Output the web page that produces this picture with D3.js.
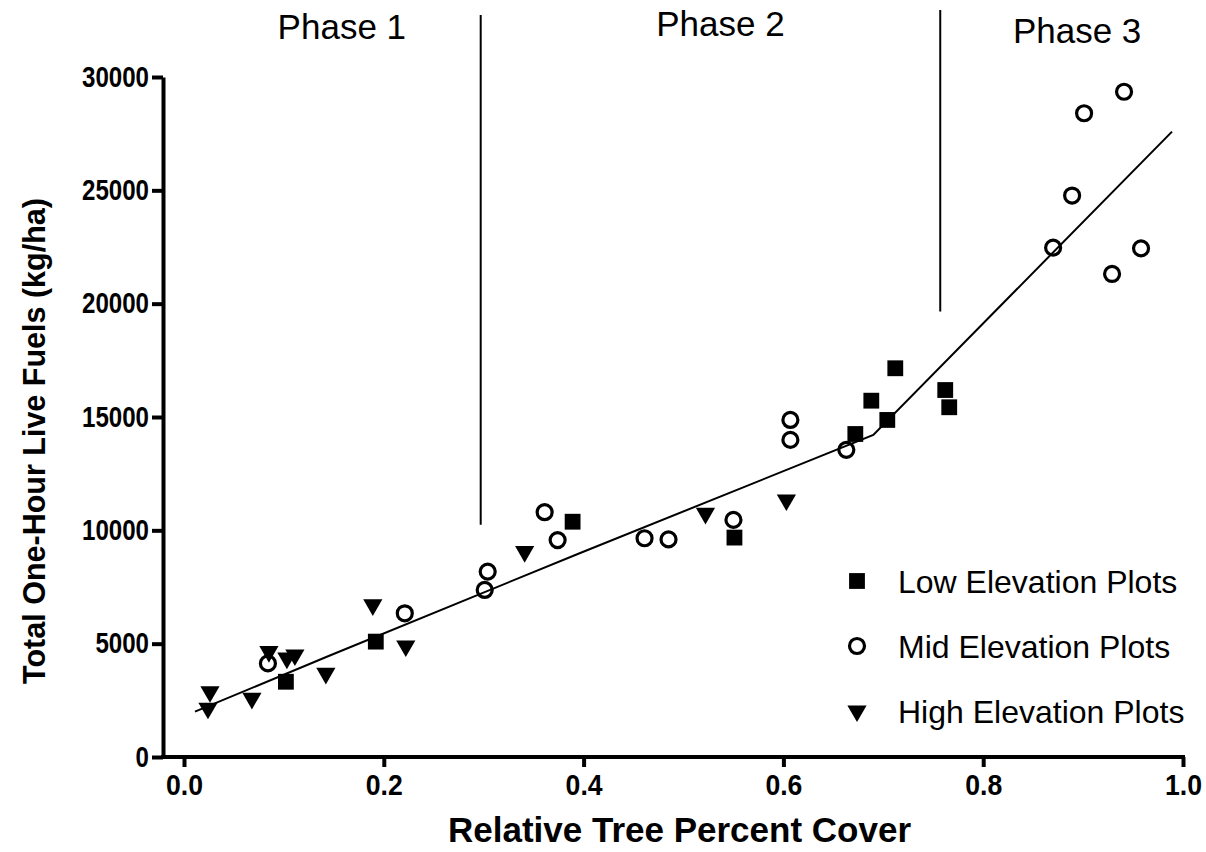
<!DOCTYPE html>
<html><head><meta charset="utf-8">
<script src="https://cdn.jsdelivr.net/npm/d3@7"></script>
<style>
body{margin:0;background:#fff;}
svg{display:block;font-family:"Liberation Sans",Arial,sans-serif;}
</style></head>
<body><svg id="c" width="1206" height="852"></svg>
<script>
// ---- data ----
const lowX  = [0.102,0.192,0.389,0.551,0.672,0.688,0.704,0.712,0.762,0.766];
const lowY  = [3320,5090,10380,9680,14250,15720,14870,17150,16190,15430];
const midX  = [0.084,0.221,0.301,0.304,0.361,0.374,0.461,0.485,0.550,0.607,0.607,0.663,0.870,0.889,0.901,0.929,0.941,0.958];
const midY  = [4130,6340,7370,8180,10800,9570,9650,9600,10460,14870,13990,13550,22470,24770,28400,21310,29350,22440];
const highX = [0.024,0.026,0.068,0.085,0.103,0.111,0.142,0.189,0.222,0.341,0.522,0.603];
const highY = [2150,2880,2590,4650,4360,4500,3690,6710,4900,9060,10750,11340];
const fitX  = [0.011,0.146,0.396,0.690,0.989];
const fitY  = [2000,4480,8990,14207,27590];
const phaseNames = ["Phase 1","Phase 2","Phase 3"];
const phaseLabelX = [0.158,0.537,0.894];
const dividerX = [0.297,0.757];
const dividerBottom = [10250,19650];
const xTicks = [0,0.2,0.4,0.6,0.8,1.0];
const yTicks = [0,5000,10000,15000,20000,25000,30000];
const legendNames = ["Low Elevation Plots","Mid Elevation Plots","High Elevation Plots"];

// ---- layout ----
const svg = d3.select("#c");
const x = d3.scaleLinear().domain([0,1]).range([184,1183]);
const y = d3.scaleLinear().domain([0,30000]).range([757,77]);
const axisX0 = 163;
const FF = "'Liberation Sans',Arial,sans-serif";

// y axis
const gy = svg.append("g").attr("transform",`translate(${axisX0},0)`)
  .call(d3.axisLeft(y).tickValues(yTicks).tickFormat(d3.format("d")).tickSize(11).tickSizeOuter(0).tickPadding(3));
gy.select(".domain").attr("stroke","#000").attr("stroke-width",4);
gy.selectAll(".tick line").attr("stroke","#000").attr("stroke-width",4);
gy.selectAll(".tick text").attr("font-size",29).attr("font-weight","bold").attr("fill","#000")
  .attr("font-family",FF)
  .attr("textLength",function(){return this.textContent.length*13.4;})
  .attr("lengthAdjust","spacingAndGlyphs");

// x axis
const gx = svg.append("g").attr("transform",`translate(0,${y(0)})`)
  .call(d3.axisBottom(x).tickValues(xTicks).tickFormat(d3.format(".1f")).tickSize(10).tickSizeOuter(0).tickPadding(7));
gx.select(".domain").remove();
gx.append("line").attr("x1",axisX0-2).attr("x2",x(1)+2).attr("y1",0).attr("y2",0)
  .attr("stroke","#000").attr("stroke-width",4);
gx.selectAll(".tick line").attr("stroke","#000").attr("stroke-width",4);
gx.selectAll(".tick text").attr("font-size",29).attr("font-weight","bold").attr("fill","#000")
  .attr("font-family",FF)
  .attr("textLength",37).attr("lengthAdjust","spacingAndGlyphs");

// axis titles
svg.append("text").attr("x",(x(0)+x(1))/2 - 4).attr("y",842).attr("text-anchor","middle")
  .attr("font-size",35).attr("font-weight","bold").text("Relative Tree Percent Cover");
svg.append("text").attr("transform",`translate(45,441) rotate(-90)`).attr("text-anchor","middle")
  .attr("font-size",30.5).attr("font-weight","bold").text("Total One-Hour Live Fuels (kg/ha)");

// phase dividers
dividerX.forEach((dx,i)=>{
  svg.append("line").attr("x1",x(dx)).attr("x2",x(dx)).attr("y1",y(dividerBottom[i])).attr("y2",i===0?15:10)
    .attr("stroke","#000").attr("stroke-width",2);
});
const phaseBase = [39,36,43];
phaseNames.forEach((p,i)=>{
  svg.append("text").attr("x",x(phaseLabelX[i])).attr("y",phaseBase[i]).attr("text-anchor","middle")
    .attr("font-size",35).text(p);
});

// fit line
const fit = fitX.map((v,i)=>[v,fitY[i]]);
svg.append("path").datum(fit).attr("fill","none").attr("stroke","#000").attr("stroke-width",2)
  .attr("d",d3.line().x(d=>x(d[0])).y(d=>y(d[1])));

// markers
const sq = d3.symbol().type(d3.symbolSquare).size(250);
const tri = d3.symbol().type(d3.symbolTriangle).size(160);
function drawSquare(g,cx,cy){g.append("path").attr("d",sq()).attr("transform",`translate(${cx},${cy})`).attr("fill","#000");}
function drawCircle(g,cx,cy){g.append("circle").attr("cx",cx).attr("cy",cy).attr("r",7.5).attr("fill","none").attr("stroke","#000").attr("stroke-width",3.2);}
function drawTri(g,cx,cy){g.append("path").attr("d",tri()).attr("transform",`translate(${cx},${cy}) rotate(180)`).attr("fill","#000");}

const gm = svg.append("g");
lowX.forEach((v,i)=>drawSquare(gm,x(v),y(lowY[i])));
midX.forEach((v,i)=>drawCircle(gm,x(v),y(midY[i])));
highX.forEach((v,i)=>drawTri(gm,x(v),y(highY[i])));

// legend
const lg = svg.append("g");
const legY = [581,646,711];
drawSquare(lg,857,legY[0]);
drawCircle(lg,857,legY[1]);
drawTri(lg,857,legY[2]);
legendNames.forEach((n,i)=>{
  lg.append("text").attr("x",898).attr("y",legY[i]).attr("dy","0.36em").attr("font-size",32).text(n);
});
</script>
</body></html>
